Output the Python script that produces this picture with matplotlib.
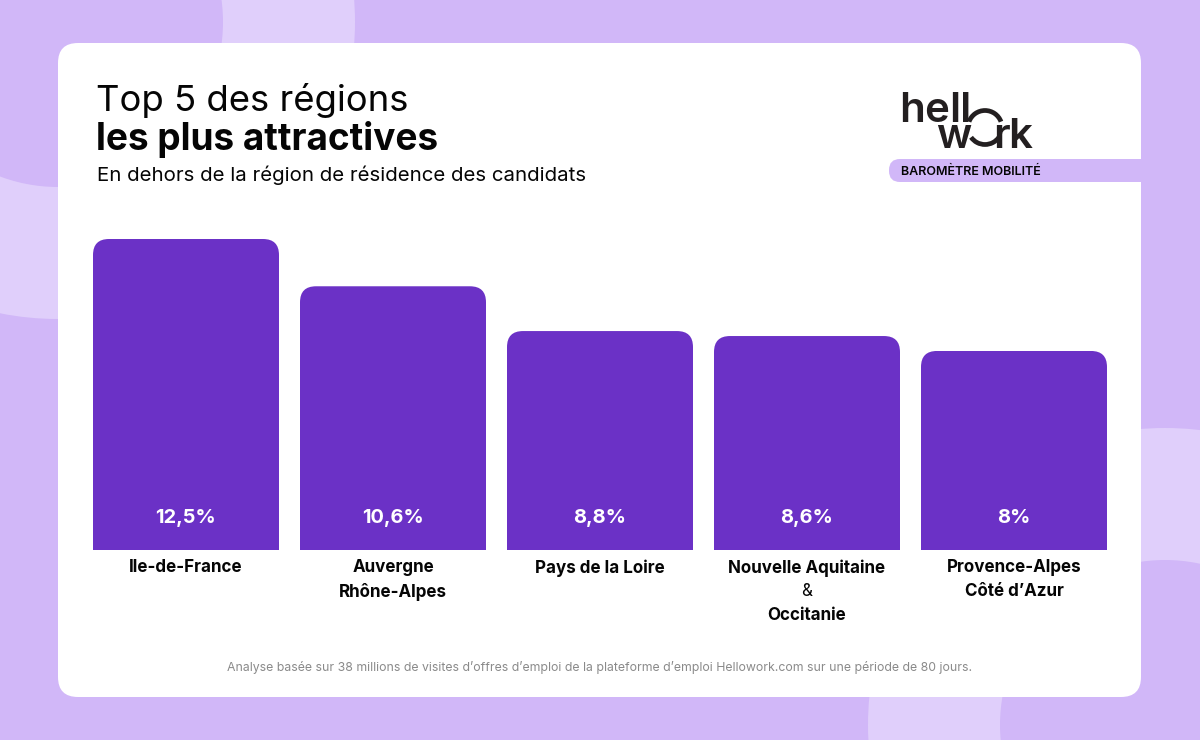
import matplotlib
matplotlib.use("Agg")
import matplotlib.pyplot as plt
from matplotlib.patches import Circle, FancyBboxPatch, Arc, Rectangle

plt.rcParams['font.family'] = ['Inter', 'DejaVu Sans']

regions = [
    ["Ile-de-France"],
    ["Auvergne", "Rhône-Alpes"],
    ["Pays de la Loire"],
    ["Nouvelle Aquitaine", "&", "Occitanie"],
    ["Provence-Alpes", "Côté d’Azur"],
]
values = [12.5, 10.6, 8.8, 8.6, 8.0]
value_labels = ["12,5%", "10,6%", "8,8%", "8,6%", "8%"]

W, H = 1200, 740
BG = "#d1b7f8"
LIGHT = "#e0cffb"
PURPLE = "#6b31c6"
INK = "#050505"
LOGO = "#231f20"


def px(size):
    # font sizes below are read in image pixels
    return size * 0.72


fig = plt.figure(figsize=(12, 7.4), dpi=100, facecolor=BG)

# page layer, in image pixels
page = fig.add_axes([0, 0, 1, 1])
page.set_xlim(0, W)
page.set_ylim(H, 0)
page.axis("off")

# background rings
for cx, cy in [(58, 22), (1165, 725)]:
    page.add_patch(Circle((cx, cy), 297, fc=LIGHT, ec="none"))
    page.add_patch(Circle((cx, cy), 165, fc=BG, ec="none"))

# white card
page.add_patch(FancyBboxPatch((58 + 20, 43 + 20), 1083 - 40, 654 - 40,
                              boxstyle="round,pad=20,rounding_size=20",
                              fc="white", ec="none"))

# title block
page.text(96, 101, "Top 5 des régions", fontsize=px(36.5), color=INK, va="center")
page.text(96, 139, "les plus attractives", fontsize=px(37), color=INK, va="center", fontweight="bold")
page.text(97, 175, "En dehors de la région de résidence des candidats", fontsize=px(20.45),
          color=INK, va="center")

# logo, letter by letter because the wordmark is tightly set
for letter, x, base in [("h", 899, 122), ("e", 924, 122), ("ll", 949, 122),
                        ("w", 936, 148), ("r", 993, 148), ("k", 1008, 148)]:
    page.text(x, base, letter, fontsize=px(42), color=LOGO, va="baseline", fontweight="semibold")
page.add_patch(Arc((985, 127.5), 34, 34, theta1=200, theta2=340, lw=3.4, color=LOGO))
page.add_patch(Arc((985, 127.5), 34, 34, theta1=35, theta2=145, lw=3.4, color=LOGO))

# pill
page.add_patch(FancyBboxPatch((900, 170), 300, 1, boxstyle="round,pad=11,rounding_size=11",
                              fc=BG, ec="none"))
page.add_patch(Rectangle((1141, 150), 59, 40, fc=BG, ec="none"))
page.text(901, 172, "BAROMÈTRE MOBILITÉ", fontsize=px(12.5), color=INK, va="center", fontweight="semibold")

# footnote
page.text(600, 668, "Analyse basée sur 38 millions de visites d’offres d’emploi de la plateforme "
          "d’emploi Hellowork.com sur une période de 80 jours.",
          fontsize=px(12.3), color="#8a8a8a", ha="center", va="center")

# bars
ax = fig.add_axes([93 / W, (H - 550) / H, 1014 / W, 311 / H])
ax.patch.set_alpha(0)
ax.set_xlim(-93 / 207, 4 + 93 / 207)
ax.set_ylim(0, 12.5)
ax.axis("off")

bars = ax.bar(range(len(values)), values, width=186 / 207, color=PURPLE)
fig.canvas.draw()
for bar in bars:
    # round the top corners: clip to a rounded box running past the baseline
    x0, y0 = ax.transData.transform((bar.get_x(), 0))
    x1, y1 = ax.transData.transform((bar.get_x() + bar.get_width(), bar.get_height()))
    r = 16
    clip = FancyBboxPatch((x0 + r, y0 - 30), x1 - x0 - 2 * r, y1 - y0 + 30 - r,
                          boxstyle=f"round,pad={r},rounding_size={r}",
                          transform=None)
    bar.set_clip_path(clip)

for i, label in enumerate(value_labels):
    ax.annotate(label, (i, 0), xytext=(0, px(32)), textcoords="offset points",
                ha="center", va="center", color="white", fontsize=px(20), fontweight="bold")

for i, lines in enumerate(regions):
    for j, line in enumerate(lines):
        ax.annotate(line, (i, 0), xytext=(0, -px(18 + 24 * j)), textcoords="offset points",
                    ha="center", va="center", color=INK, fontsize=px(17),
                    fontweight="normal" if line == "&" else "bold", annotation_clip=False)

fig.savefig("out.png", dpi=100, facecolor=BG)
